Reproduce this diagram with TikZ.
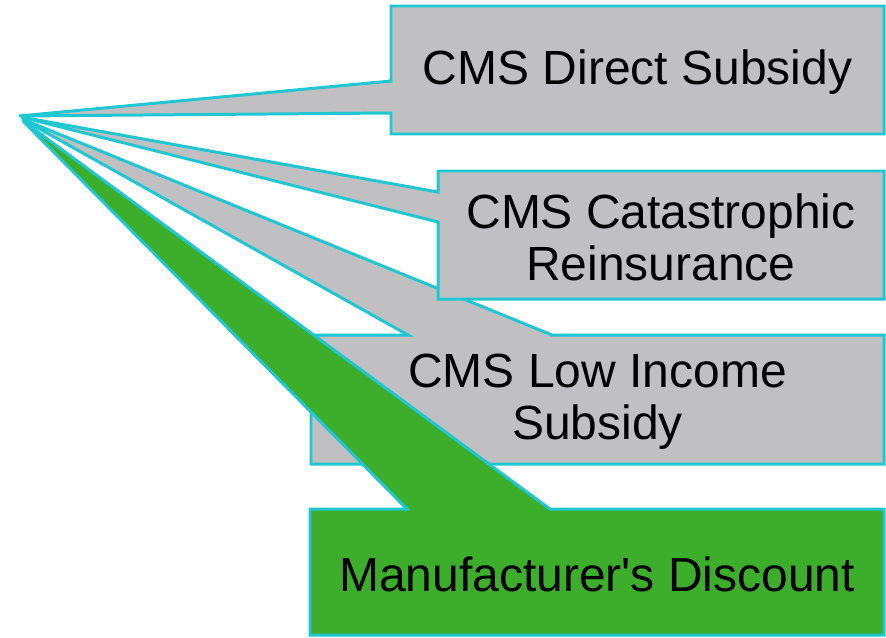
\documentclass[tikz,border=0pt]{standalone}
\usepackage{fontspec}
\setmainfont{Liberation Sans}[Ligatures=TeXOff]
\usetikzlibrary{calc}

\definecolor{edgecyan}{RGB}{32,198,210}
\definecolor{boxgray}{RGB}{192,192,194}
\definecolor{boxgreen}{RGB}{61,173,44}

\tikzset{
  callout/.style={draw=edgecyan,line width=1.7pt,fill=boxgray},
  payer/.style={font=\fontsize{27.3}{29.5}\selectfont,align=center,inner sep=0pt,yshift=-0.5mm}
}

\begin{document}
\begin{tikzpicture}[x=0.2mm,y=-0.2mm]
  \useasboundingbox (0,0) rectangle (886,637);

  % direct subsidy, pointer on the left side
  \coordinate (dirNW) at (391,6);
  \coordinate (dirSE) at (884,134);
  \coordinate (dirTip) at (19,116);
  \draw[callout] (dirNW) -- (dirSE |- dirNW) -- (dirSE) -- (dirNW |- dirSE)
    -- (391,113) -- (dirTip) -- (391,81) -- cycle;
  \node[payer] (direct) at ($(dirNW)!.5!(dirSE)$) {CMS Direct Subsidy};

  % low income subsidy, pointer on the top side (under the next box)
  \coordinate (lowNW) at (311,335);
  \coordinate (lowSE) at (884,464);
  \coordinate (lowTip) at (22,119);
  \draw[callout] (lowNW) -- (408,335) -- (lowTip) -- (552,335) -- (lowSE |- lowNW)
    -- (lowSE) -- (lowNW |- lowSE) -- cycle;
  \node[payer] (lowincome) at ($(lowNW)!.5!(lowSE)$) {CMS Low Income\\Subsidy};

  % catastrophic reinsurance
  \coordinate (catNW) at (438,171);
  \coordinate (catSE) at (884,299);
  \coordinate (catTip) at (21,117);
  \draw[callout] (catNW) -- (catSE |- catNW) -- (catSE) -- (catNW |- catSE)
    -- (438,222) -- (catTip) -- (438,192) -- cycle;
  \node[payer] (reinsurance) at ($(catNW)!.5!(catSE)$) {CMS Catastrophic\\Reinsurance};

  % manufacturer's discount, green and on top
  \coordinate (manNW) at (310,509);
  \coordinate (manSE) at (884,635);
  \coordinate (manTip) at (23,121);
  \draw[callout,fill=boxgreen] (manNW) -- (407,509) -- (manTip) -- (550,509) -- (manSE |- manNW)
    -- (manSE) -- (manNW |- manSE) -- cycle;
  \node[payer] (discount) at ($(manNW)!.5!(manSE)$) {Manufacturer's Discount};
\end{tikzpicture}
\end{document}
